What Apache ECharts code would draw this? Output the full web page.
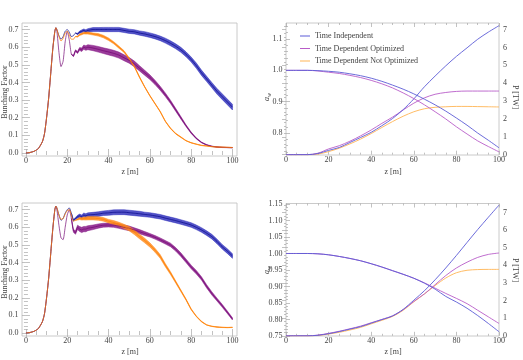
<!DOCTYPE html>
<html>
<head>
<meta charset="utf-8">
<script src="https://cdn.jsdelivr.net/npm/echarts@6/dist/echarts.min.js"></script>
<style>
html, body { margin: 0; padding: 0; background: #fff; }
#main { width: 523px; height: 360px; }
</style>
</head>
<body>
<div id="main"></div>
<script>
// bunching factor vs z, sampled finer in the oscillating start-up region
var zB = [0,2,4,6,8,9,10,11,12,13,14,14.5,15,16,17,18,19,20,21,22,23,24,25,26,27,28,29,30,
          32.5,35,37.5,40,42.5,45,47.5,50,52.5,55,57.5,60,62.5,65,67.5,70,72.5,75,77.5,80,82.5,85,87.5,90,92.5,95,97.5,100];

// top panel (centre of the noisy trace, and half width of its noise band)
var b1Ti = [0,0.003,0.01,0.025,0.065,0.11,0.2,0.31,0.45,0.59,0.69,0.71,
  0.70,0.665,0.645,0.66,0.69,0.70,0.685,0.66,0.665,0.68,0.675,0.685,0.69,0.695,0.69,0.695,
  0.70,0.70,0.70,0.70,0.70,0.70,0.695,0.69,0.687,0.68,0.675,0.668,0.66,0.65,0.637,0.622,0.605,0.585,0.56,0.53,0.495,0.455,0.42,0.385,0.35,0.32,0.29,0.26];
var b1Opt = [0,0.003,0.01,0.025,0.065,0.11,0.2,0.31,0.45,0.59,0.69,0.71,
  0.69,0.57,0.49,0.52,0.63,0.69,0.64,0.56,0.55,0.58,0.57,0.59,0.585,0.60,0.595,0.60,
  0.595,0.588,0.58,0.573,0.565,0.555,0.54,0.525,0.505,0.48,0.455,0.43,0.40,0.367,0.33,0.29,0.245,0.20,0.155,0.115,0.083,0.06,0.046,0.038,0.034,0.032,0.031,0.03];
var b1Not = [0,0.003,0.01,0.025,0.065,0.11,0.2,0.31,0.45,0.59,0.69,0.71,
  0.70,0.66,0.635,0.65,0.68,0.69,0.67,0.645,0.645,0.66,0.66,0.67,0.675,0.68,0.68,0.68,
  0.675,0.67,0.66,0.645,0.625,0.60,0.575,0.535,0.49,0.43,0.375,0.325,0.28,0.235,0.18,0.14,0.11,0.09,0.07,0.058,0.05,0.043,0.04,0.036,0.034,0.033,0.032,0.031];
var n1Ti = [0,0,0,0,0,0,0,0,0,0,0,0,
  0,0,0,0,0,0,0,0,0,0,0.004,0.006,0.008,0.008,0.009,0.01,
  0.011,0.011,0.012,0.012,0.012,0.012,0.012,0.012,0.012,0.012,0.013,0.013,0.013,0.013,0.014,0.014,0.014,0.014,0.014,0.014,0.015,0.015,0.015,0.015,0.016,0.016,0.016,0.016];
var n1Opt = [0,0,0,0,0,0,0,0,0,0,0,0,
  0,0,0,0,0,0,0,0,0.004,0.005,0.006,0.008,0.01,0.012,0.013,0.014,
  0.015,0.016,0.016,0.017,0.017,0.017,0.017,0.016,0.016,0.015,0.014,0.013,0.012,0.011,0.01,0.009,0.008,0.007,0.005,0.004,0.003,0.002,0.002,0.001,0.001,0.001,0.001,0.001];
var n1Not = [0,0,0,0,0,0,0,0,0,0,0,0,
  0,0,0,0,0,0,0,0,0,0,0.003,0.004,0.005,0.005,0.006,0.006,
  0.006,0.007,0.007,0.007,0.006,0.006,0.005,0.004,0.003,0.003,0.002,0.002,0.002,0.002,0.002,0.002,0.002,0.002,0.001,0.001,0.001,0.001,0.001,0.001,0.001,0.001,0.001,0.001];

// bottom panel
var b3Ti = [0,0.003,0.01,0.025,0.065,0.11,0.2,0.31,0.45,0.59,0.70,0.72,
  0.71,0.67,0.64,0.65,0.68,0.70,0.71,0.68,0.64,0.65,0.66,0.665,0.66,0.67,0.665,0.67,
  0.672,0.675,0.68,0.682,0.685,0.686,0.686,0.683,0.68,0.677,0.673,0.67,0.665,0.66,0.652,0.645,0.638,0.63,0.622,0.613,0.60,0.585,0.567,0.547,0.52,0.49,0.465,0.437];
var b3Opt = [0,0.003,0.01,0.025,0.065,0.11,0.2,0.31,0.45,0.59,0.70,0.72,
  0.70,0.61,0.54,0.53,0.60,0.67,0.70,0.65,0.58,0.57,0.60,0.59,0.585,0.59,0.59,0.595,
  0.60,0.607,0.612,0.613,0.612,0.607,0.60,0.594,0.585,0.575,0.565,0.555,0.543,0.53,0.515,0.50,0.475,0.445,0.41,0.375,0.345,0.31,0.265,0.225,0.19,0.155,0.118,0.08];
var b3Not = [0,0.003,0.01,0.025,0.065,0.11,0.2,0.31,0.45,0.59,0.70,0.72,
  0.71,0.67,0.645,0.65,0.675,0.695,0.70,0.67,0.635,0.64,0.645,0.65,0.648,0.65,0.65,0.652,
  0.652,0.65,0.645,0.635,0.627,0.618,0.605,0.592,0.572,0.548,0.525,0.50,0.47,0.435,0.385,0.34,0.29,0.24,0.19,0.135,0.095,0.065,0.046,0.038,0.034,0.032,0.031,0.032];
var n3Ti = [0,0,0,0,0,0,0,0,0,0,0,0,
  0,0,0,0,0,0,0,0,0.005,0.006,0.008,0.01,0.01,0.011,0.012,0.012,
  0.013,0.013,0.013,0.014,0.014,0.014,0.014,0.014,0.014,0.014,0.013,0.013,0.013,0.013,0.013,0.013,0.013,0.013,0.013,0.013,0.013,0.013,0.013,0.013,0.013,0.013,0.013,0.013];
var n3Opt = [0,0,0,0,0,0,0,0,0,0,0,0,
  0,0,0,0,0,0,0,0,0.008,0.01,0.012,0.014,0.015,0.015,0.015,0.014,
  0.013,0.012,0.011,0.011,0.012,0.013,0.013,0.013,0.012,0.012,0.011,0.01,0.01,0.01,0.01,0.01,0.01,0.01,0.01,0.01,0.01,0.009,0.009,0.009,0.008,0.008,0.007,0.006];
var n3Not = [0,0,0,0,0,0,0,0,0,0,0,0,
  0,0,0,0,0,0,0,0,0,0,0.004,0.006,0.007,0.008,0.009,0.01,
  0.01,0.01,0.01,0.01,0.011,0.011,0.012,0.012,0.013,0.013,0.013,0.012,0.011,0.01,0.009,0.008,0.006,0.005,0.004,0.003,0.002,0.002,0.001,0.001,0.001,0.001,0.001,0.001];

// undulator parameter a_w and power P [TW] vs z
var zP = [0,5,10,15,20,25,30,35,40,45,50,55,60,65,70,75,80,85,90,95,100];
var aw2Ti  = [1.0,1.0,1.0,0.999,0.997,0.994,0.989,0.983,0.975,0.965,0.953,0.94,0.925,0.908,0.89,0.87,0.848,0.825,0.80,0.777,0.753];
var aw2Opt = [1.0,1.0,1.0,0.998,0.994,0.99,0.984,0.977,0.968,0.957,0.944,0.928,0.91,0.89,0.868,0.845,0.82,0.797,0.775,0.757,0.74];
var p2Ti  = [0,0,0,0.06,0.24,0.4,0.68,0.96,1.25,1.62,2.02,2.52,3.12,3.8,4.4,4.97,5.5,5.98,6.46,6.86,7.22];
var p2Opt = [0,0,0,0.08,0.32,0.5,0.75,1.05,1.38,1.75,2.1,2.5,2.88,3.18,3.38,3.48,3.54,3.56,3.56,3.56,3.56];
var p2Not = [0,0,0,0.03,0.17,0.36,0.6,0.87,1.18,1.52,1.85,2.15,2.4,2.57,2.65,2.68,2.7,2.7,2.69,2.68,2.67];

var aw4Ti  = [1.0,1.0,1.0,0.999,0.996,0.991,0.985,0.978,0.969,0.959,0.948,0.937,0.925,0.91,0.892,0.87,0.853,0.834,0.812,0.788,0.763];
var aw4Opt = [1.0,1.0,1.0,0.999,0.996,0.991,0.985,0.978,0.969,0.959,0.948,0.937,0.925,0.911,0.895,0.879,0.864,0.848,0.828,0.808,0.788];
var p4Ti  = [0,0,0,0.03,0.12,0.24,0.38,0.52,0.72,0.92,1.13,1.5,2.02,2.56,3.18,3.85,4.56,5.3,6.03,6.73,7.42];
var p4Opt = [0,0,0,0.04,0.14,0.26,0.4,0.55,0.74,0.93,1.13,1.48,1.95,2.38,2.9,3.42,3.85,4.18,4.45,4.62,4.7];
var p4Not = [0,0,0,0.02,0.1,0.2,0.33,0.48,0.68,0.88,1.1,1.45,1.93,2.38,2.85,3.28,3.58,3.72,3.76,3.77,3.77];

var legendNames = ['Time Independent', 'Time Dependent Optimized', 'Time Dependent Not Optimized'];

var FONT = "'Liberation Serif', 'DejaVu Serif', serif";
var TXT = '#444';

function seq(a, b, s) {
    var r = [];
    for (var v = a; v <= b + 1e-9; v += s) r.push(+v.toFixed(4));
    return r;
}
function minorOf(a, b, s, majors) {
    return seq(a, b, s).filter(function (v) {
        return !majors.some(function (m) { return Math.abs(m - v) < 1e-6; });
    });
}

var grids = [
    {left: 22, top: 23, width: 215, height: 133},
    {left: 286, top: 23, width: 213, height: 132},
    {left: 22, top: 203, width: 215, height: 133},
    {left: 286, top: 203.5, width: 213, height: 132.5}
];
grids.forEach(function (g) {
    g.show = true;
    g.borderColor = '#bdbdbd';
    g.borderWidth = 0.8;
    g.backgroundColor = 'transparent';
});

var xAxes = [], yAxes = [];

function axis(gi, pos, min, max, ticks, len, labels, dec, margin) {
    var o = {
        type: 'value', gridIndex: gi, position: pos, min: min, max: max,
        axisLine: {show: false},
        splitLine: {show: false},
        axisTick: {show: true, inside: true, length: len, customValues: ticks,
                   lineStyle: {color: '#a8a8a8', width: 0.7}},
        axisLabel: {show: false}
    };
    if (labels) {
        o.axisLabel = {
            show: true, customValues: labels, margin: margin,
            formatter: function (v) { return (+v).toFixed(dec); },
            fontFamily: FONT, fontSize: 8, color: TXT
        };
    }
    return o;
}

// each panel gets 4 x axes and 4 y axes: major/minor, both sides
function panel(gi, xr, xMaj, xMin, yl, ylMaj, ylMin, ylDec, yr, yrMaj, yrMin, yrLabels) {
    xAxes.push(axis(gi, 'bottom', xr[0], xr[1], xMaj, 4, xMaj, 0, 1));
    xAxes.push(axis(gi, 'bottom', xr[0], xr[1], xMin, 2));
    xAxes.push(axis(gi, 'top', xr[0], xr[1], xMaj, 4));
    xAxes.push(axis(gi, 'top', xr[0], xr[1], xMin, 2));
    yAxes.push(axis(gi, 'left', yl[0], yl[1], ylMaj, 4, ylMaj, ylDec, 3.5));
    yAxes.push(axis(gi, 'left', yl[0], yl[1], ylMin, 2));
    yAxes.push(axis(gi, 'right', yr[0], yr[1], yrMaj, 4, yrLabels ? yrMaj : null, 0, 4));
    yAxes.push(axis(gi, 'right', yr[0], yr[1], yrMin, 2));
}

var zMaj = seq(0, 100, 20), zMin = minorOf(0, 100, 5, zMaj);
var bMaj = seq(0, 0.7, 0.1), bMin = minorOf(0, 0.72, 0.02, bMaj);
panel(0, [-1.9, 102.2], zMaj, zMin, [-0.017, 0.737], bMaj, bMin, 1, [-0.017, 0.737], bMaj, bMin, false);

var a2Maj = seq(0.8, 1.1, 0.1), a2Min = minorOf(0.74, 1.14, 0.02, a2Maj);
var pMaj = seq(0, 7, 1), p2Min = minorOf(0, 7.3, 0.2, pMaj), p4Min = minorOf(0, 7.4, 0.2, pMaj);
panel(1, [0, 100], zMaj, zMin, [0.73, 1.151], a2Maj, a2Min, 1, [-0.02, 7.37], pMaj, p2Min, true);

panel(2, [-1.9, 102.2], zMaj, zMin, [-0.017, 0.738], bMaj, bMin, 1, [-0.017, 0.738], bMaj, bMin, false);

var a4Maj = seq(0.75, 1.15, 0.05), a4Min = minorOf(0.75, 1.15, 0.01, a4Maj);
panel(3, [0, 100], zMaj, zMin, [0.75, 1.1515], a4Maj, a4Min, 2, [-0.01, 7.51], pMaj, p4Min, true);

var series = [];

// noisy trace: a band polygon from centre-amp to centre+amp, then the centre line
function noisy(key, gi, mid, amp, bandColor, lineColor, lineOpacity) {
    series.push({
        type: 'custom', name: key + gi + 'band', xAxisIndex: gi * 4, yAxisIndex: gi * 4,
        silent: true, clip: true,
        data: [[zB[0], mid[0]]],
        renderItem: function (params, api) {
            var up = [], dn = [];
            for (var i = 0; i < zB.length; i++) {
                if (amp[i] <= 0 && (i + 1 >= zB.length || amp[i + 1] <= 0)) continue;
                up.push(api.coord([zB[i], mid[i] + amp[i]]));
                dn.push(api.coord([zB[i], mid[i] - amp[i]]));
            }
            return {
                type: 'polygon',
                shape: {points: up.concat(dn.reverse())},
                style: {fill: bandColor, stroke: bandColor, lineWidth: 0.6}
            };
        }
    });
    series.push({
        type: 'line', name: key + gi + 'mid', xAxisIndex: gi * 4, yAxisIndex: gi * 4,
        data: zB.map(function (z, i) { return [z, mid[i]]; }),
        symbol: 'none', smooth: 0.2, silent: true,
        lineStyle: {width: 0.9, color: lineColor, opacity: lineOpacity}
    });
}

var BAND = ['rgba(40,40,185,0.8)', 'rgba(135,25,135,0.85)', 'rgba(255,140,30,0.85)'];
var MID = ['#000085', '#700070', '#ff7f00'];

noisy('ti', 0, b1Ti, n1Ti, BAND[0], MID[0], 0.75);
noisy('opt', 0, b1Opt, n1Opt, BAND[1], MID[1], 0.75);
noisy('not', 0, b1Not, n1Not, BAND[2], MID[2], 0.85);
noisy('ti', 2, b3Ti, n3Ti, BAND[0], MID[0], 0.75);
noisy('opt', 2, b3Opt, n3Opt, BAND[1], MID[1], 0.75);
noisy('not', 2, b3Not, n3Not, BAND[2], MID[2], 0.85);

var LINE = ['#5b5bd6', '#b85cc8', '#ffb454'];

function thin(name, gi, vals, right, color) {
    series.push({
        type: 'line', name: name, data: zP.map(function (z, i) { return [z, vals[i]]; }),
        xAxisIndex: gi * 4, yAxisIndex: gi * 4 + (right ? 2 : 0),
        symbol: 'none', smooth: 0.3, silent: true,
        itemStyle: {color: color},
        lineStyle: {width: 0.9, color: color}
    });
}

thin(legendNames[2], 1, p2Not, true, LINE[2]);
thin(legendNames[1], 1, p2Opt, true, LINE[1]);
thin(legendNames[0], 1, p2Ti, true, LINE[0]);
thin('aw2opt', 1, aw2Opt, false, LINE[1]);
thin('aw2ti', 1, aw2Ti, false, LINE[0]);

thin('p4not', 3, p4Not, true, LINE[2]);
thin('p4opt', 3, p4Opt, true, LINE[1]);
thin('p4ti', 3, p4Ti, true, LINE[0]);
thin('aw4opt', 3, aw4Opt, false, LINE[1]);
thin('aw4ti', 3, aw4Ti, false, LINE[0]);

function label(text, x, y, rot) {
    return {
        type: 'text', x: x, y: y, rotation: rot || 0, silent: true,
        style: {text: text, fontFamily: FONT, fontSize: 8, fill: TXT,
                align: 'center', verticalAlign: 'middle',
                textAlign: 'center', textVerticalAlign: 'middle'}
    };
}
function awLabel(x, y) {
    return {
        type: 'text', x: x, y: y, rotation: Math.PI / 2, silent: true,
        style: {text: '{a|a}{w|w}', fill: TXT, align: 'center', verticalAlign: 'middle',
                rich: {a: {fontFamily: FONT, fontSize: 8, fontStyle: 'italic', fill: TXT},
                       w: {fontFamily: FONT, fontSize: 6, fontStyle: 'italic', fill: TXT, padding: [4, 0, 0, 0]}}}
    };
}

var chart = echarts.init(document.getElementById('main'), null, {renderer: 'canvas'});
chart.setOption({
    animation: false,
    backgroundColor: '#fff',
    grid: grids,
    xAxis: xAxes,
    yAxis: yAxes,
    legend: {
        orient: 'vertical', left: 295, top: 27,
        itemWidth: 10, itemHeight: 1, itemGap: 4.5, icon: 'rect',
        selectedMode: false,
        textStyle: {fontFamily: FONT, fontSize: 8, color: TXT},
        data: legendNames
    },
    graphic: [
        label('Bunching Factor', 5, 92, Math.PI / 2),
        label('Bunching Factor', 5, 272, Math.PI / 2),
        label('z [m]', 130, 172),
        label('z [m]', 393, 172),
        label('z [m]', 130, 352),
        label('z [m]', 393, 352),
        awLabel(267, 97),
        awLabel(267, 270),
        label('P [TW]', 515, 97, -Math.PI / 2),
        label('P [TW]', 515, 270, -Math.PI / 2)
    ],
    series: series
});
</script>
</body>
</html>
